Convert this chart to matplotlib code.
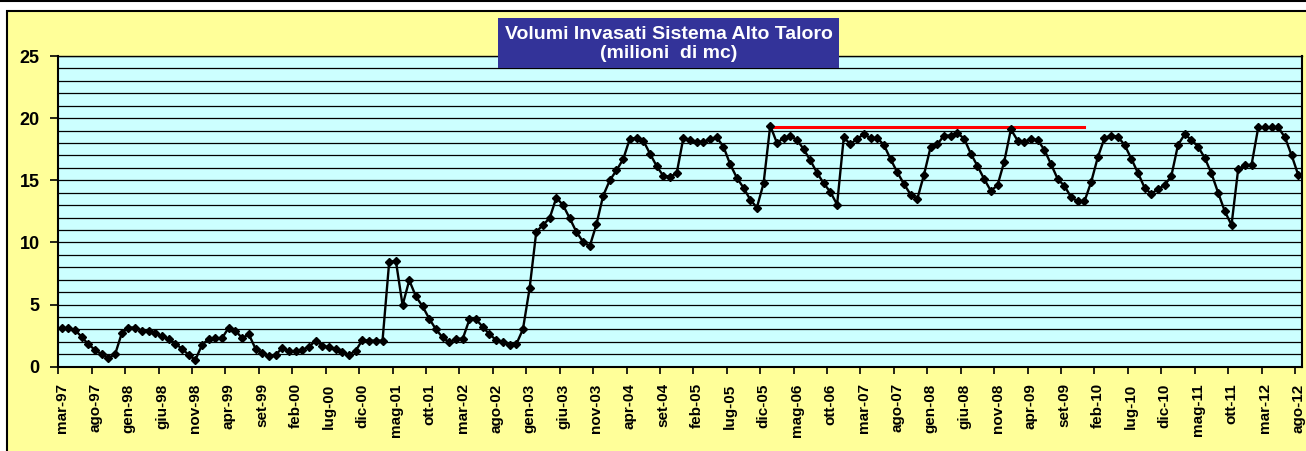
import numpy as np
import matplotlib
matplotlib.use('Agg')
import matplotlib.pyplot as plt
from matplotlib.patches import Rectangle
from matplotlib.ticker import MultipleLocator, FixedLocator, NullFormatter

plt.rcParams['font.family'] = ['Liberation Sans', 'DejaVu Sans']
plt.rcParams['font.weight'] = 'bold'

# volumi invasati mensili (milioni di mc), da mar-97 ad ago-12
vol_1997 = [3.1, 3.1, 2.95, 2.4, 1.8, 1.35, 1.0, 0.7, 1.0, 2.7]
vol_1998 = [3.15, 3.15, 2.9, 2.85, 2.7, 2.45, 2.25, 1.85, 1.45, 0.95, 0.55, 1.75]
vol_1999 = [2.25, 2.3, 2.3, 3.15, 2.9, 2.3, 2.6, 1.45, 1.1, 0.85, 0.95, 1.5]
vol_2000 = [1.25, 1.25, 1.35, 1.6, 2.1, 1.7, 1.55, 1.45, 1.15, 0.95, 1.3, 2.15]
vol_2001 = [2.1, 2.1, 2.1, 8.45, 8.5, 4.95, 6.95, 5.65, 4.85, 3.85, 3.0, 2.35]
vol_2002 = [1.95, 2.25, 2.25, 3.8, 3.8, 3.2, 2.6, 2.15, 1.95, 1.75, 1.8, 3.0]
vol_2003 = [6.3, 10.85, 11.4, 11.95, 13.6, 13.0, 11.95, 10.85, 10.05, 9.7, 11.45, 13.75]
vol_2004 = [15.0, 15.8, 16.7, 18.35, 18.4, 18.2, 17.15, 16.15, 15.35, 15.3, 15.55, 18.4]
vol_2005 = [18.25, 18.1, 18.1, 18.3, 18.45, 17.7, 16.3, 15.2, 14.4, 13.45, 12.8, 14.75]
vol_2006 = [19.4, 18.0, 18.4, 18.55, 18.25, 17.5, 16.6, 15.6, 14.75, 14.05, 13.05, 18.45]
vol_2007 = [17.9, 18.35, 18.7, 18.4, 18.4, 17.85, 16.7, 15.65, 14.7, 13.85, 13.5, 15.45]
vol_2008 = [17.7, 17.9, 18.6, 18.6, 18.8, 18.35, 17.15, 16.15, 15.1, 14.15, 14.6, 16.5]
vol_2009 = [19.1, 18.2, 18.1, 18.3, 18.25, 17.45, 16.3, 15.1, 14.55, 13.65, 13.3, 13.3]
vol_2010 = [14.85, 16.85, 18.4, 18.6, 18.5, 17.85, 16.75, 15.6, 14.4, 13.9, 14.3, 14.6]
vol_2011 = [15.35, 17.85, 18.7, 18.25, 17.7, 16.8, 15.55, 14.0, 12.5, 11.4, 15.9, 16.2]
vol_2012 = [16.25, 19.25, 19.25, 19.25, 19.25, 18.45, 17.0, 15.4]

volumi = (vol_1997 + vol_1998 + vol_1999 + vol_2000 + vol_2001 + vol_2002 +
          vol_2003 + vol_2004 + vol_2005 + vol_2006 + vol_2007 + vol_2008 +
          vol_2009 + vol_2010 + vol_2011 + vol_2012)

# etichette asse x, una ogni 5 mesi
tick_labels = ['mar-97', 'ago-97', 'gen-98', 'giu-98', 'nov-98', 'apr-99', 'set-99',
               'feb-00', 'lug-00', 'dic-00', 'mag-01', 'ott-01', 'mar-02', 'ago-02',
               'gen-03', 'giu-03', 'nov-03', 'apr-04', 'set-04', 'feb-05', 'lug-05',
               'dic-05', 'mag-06', 'ott-06', 'mar-07', 'ago-07', 'gen-08', 'giu-08',
               'nov-08', 'apr-09', 'set-09', 'feb-10', 'lug-10', 'dic-10', 'mag-11',
               'ott-11', 'mar-12', 'ago-12']

# linea rossa di riferimento (gen-06 .. dic-09)
ref_level = 19.3
ref_start = 106
ref_end = 153

W, H = 1306, 451
fig = plt.figure(figsize=(W / 100, H / 100), dpi=100)
fig.patch.set_facecolor('white')

# cornice gialla
fig.add_artist(Rectangle((7.3 / W, -0.1), 1.1, 1 - 11 / H + 0.1, transform=fig.transFigure,
                         facecolor='#FFFF99', edgecolor='black', lw=1.5, zorder=-1))
fig.add_artist(plt.Line2D([0, 1], [1 - 1 / H, 1 - 1 / H], transform=fig.transFigure,
                          color='black', lw=1.5))

ax = fig.add_axes([58.3 / W, 1 - 366.7 / H, (1301.7 - 58.3) / W, (366.7 - 56) / H])
ax.set_facecolor('#CCFFFF')

x = np.arange(len(volumi))
ax.plot([ref_start, ref_end], [ref_level, ref_level], color='red', lw=2.2, zorder=2)
ax.plot(x, volumi, color='black', lw=1.7, marker='D', ms=4.3, zorder=3)

ax.set_xlim(-0.5, len(volumi) - 0.5)
ax.set_ylim(0, 25)

ax.yaxis.set_major_locator(MultipleLocator(5))
ax.yaxis.set_minor_locator(MultipleLocator(1))
ax.grid(axis='y', which='both', color='black', lw=0.9)
ax.tick_params(axis='y', which='minor', length=0)
ax.tick_params(axis='y', which='major', length=5.5, width=1.2, labelsize=13, pad=8)

ax.xaxis.set_major_locator(FixedLocator(np.arange(-0.5, len(volumi), 5)))
ax.xaxis.set_major_formatter(NullFormatter())
ax.xaxis.set_minor_locator(FixedLocator(np.arange(0, len(volumi), 5)))
ax.set_xticklabels(tick_labels, minor=True, rotation=90, fontsize=11, fontweight='bold')
ax.tick_params(axis='x', which='major', length=5, width=1.2)
ax.tick_params(axis='x', which='minor', length=0, pad=12)

for side in ['left', 'bottom', 'right']:
    ax.spines[side].set_linewidth(1.5)
ax.spines['top'].set_linewidth(1.0)

# titolo
fig.add_artist(Rectangle((498 / W, 1 - 68 / H), (839 - 498) / W, 50 / H, transform=fig.transFigure,
                         facecolor='#333399', edgecolor='none', zorder=5))
fig.text(668.5 / W, 1 - 44 / H, 'Volumi Invasati Sistema Alto Taloro\n(milioni  di mc)',
         color='white', fontsize=14, fontweight='bold', ha='center', va='center',
         linespacing=1.2, zorder=6)

fig.savefig('out.png', dpi=100)
